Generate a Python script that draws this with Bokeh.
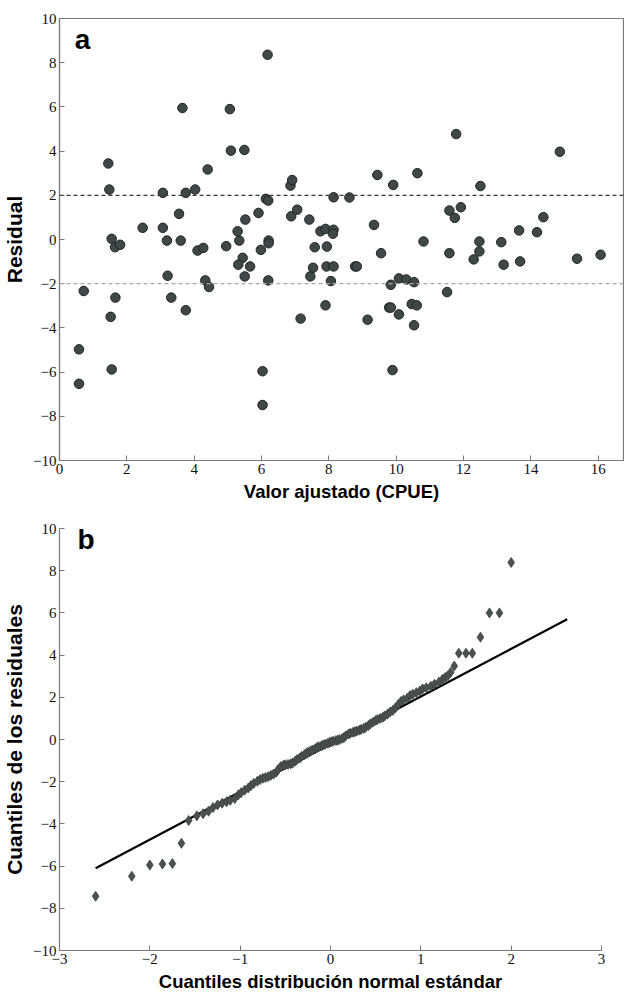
from bokeh.plotting import figure
from bokeh.models import Span, Label, FixedTicker, Range1d
from bokeh.embed import file_html
from bokeh.resources import INLINE

# ---- Panel a: residuals vs fitted values ----
fitted = [0.58, 0.58, 0.72, 1.45, 1.48, 1.55, 1.65, 1.80, 1.66, 1.52, 1.55, 2.47, 3.07, 3.07,
          3.19, 3.21, 3.32, 3.55, 3.60, 3.65, 3.75, 3.75, 4.03, 4.10, 4.27, 4.40, 4.33, 4.44,
          4.95, 5.06, 5.09, 5.49, 5.29, 5.34, 5.44, 5.31, 5.50, 5.52, 5.66, 5.91, 5.98, 6.13,
          6.20, 6.21, 6.21, 6.20, 6.03, 6.03, 6.18, 6.86, 6.91, 6.88, 7.06, 7.16, 7.42, 7.58,
          7.45, 7.53, 7.75, 7.90, 7.94, 7.93, 8.14, 7.90, 8.06, 8.14, 8.14, 8.12, 8.61, 8.78,
          8.83, 9.15, 9.34, 9.44, 9.55, 9.79, 9.84, 9.84, 9.89, 9.91, 10.08, 10.08, 10.30, 10.46,
          10.53, 10.53, 10.61, 10.63, 10.81, 11.51, 11.58, 11.58, 11.74, 11.78, 11.92, 12.30,
          12.47, 12.47, 12.50, 13.12, 13.19, 13.65, 13.68, 14.18, 14.37, 14.86, 15.37, 16.07]
residual = [-4.97, -6.53, -2.33, 3.44, 2.26, 0.03, -0.35, -0.24, -2.63, -3.50, -5.88, 0.53, 2.11, 0.53,
            -0.05, -1.64, -2.63, 1.16, -0.05, 5.95, 2.11, -3.20, 2.26, -0.50, -0.38, 3.17, -1.85, -2.15,
            -0.30, 5.90, 4.02, 4.05, 0.37, -0.05, -0.83, -1.14, -1.67, 0.90, -1.22, 1.20, -0.47, 1.84,
            1.76, -0.05, -0.17, -1.85, -5.96, -7.49, 8.36, 2.44, 2.69, 1.05, 1.35, -3.58, 0.90, -0.35,
            -1.67, -1.28, 0.37, 0.48, -0.32, -1.22, -1.22, -2.98, -1.88, 1.91, 0.44, 0.26, 1.90, -1.22,
            -1.22, -3.63, 0.66, 2.92, -0.62, -3.08, -3.08, -2.05, -5.91, 2.47, -1.76, -3.39, -1.81, -2.92,
            -1.93, -3.88, -2.98, 3.00, -0.09, -2.38, 1.31, -0.62, 0.98, 4.77, 1.46, -0.90,
            -0.09, -0.54, 2.42, -0.12, -1.14, 0.41, -0.99, 0.33, 1.01, 3.97, -0.87, -0.69]
ref_levels = [2, -2]
ref_colors = ["#3a3a3a", "#a8a8a8"]
a_xticks = [0, 2, 4, 6, 8, 10, 12, 14, 16]
a_yticks = [-10, -8, -6, -4, -2, 0, 2, 4, 6, 8, 10]

# ---- Panel b: normal QQ plot ----
qq_x = [-2.60, -2.20, -2.00, -1.86, -1.75, -1.65, -1.57, -1.48, -1.41, -1.35, -1.30, -1.25, -1.20, -1.15,
        -1.11, -1.06, -1.02, -0.99, -0.95, -0.91, -0.88, -0.85, -0.81, -0.78, -0.75, -0.72, -0.69, -0.66,
        -0.63, -0.60, -0.58, -0.55, -0.52, -0.50, -0.47, -0.44, -0.42, -0.39, -0.37, -0.34, -0.32, -0.29,
        -0.27, -0.25, -0.22, -0.20, -0.17, -0.15, -0.13, -0.10, -0.08, -0.06, -0.03, -0.01,
        0.01, 0.03, 0.06, 0.08, 0.10, 0.13, 0.15, 0.17, 0.20, 0.22, 0.25, 0.27, 0.29, 0.32,
        0.34, 0.37, 0.39, 0.42, 0.44, 0.47, 0.50, 0.52, 0.55, 0.58, 0.60, 0.63, 0.66, 0.69,
        0.72, 0.75, 0.78, 0.81, 0.85, 0.88, 0.91, 0.95, 0.99, 1.02, 1.06, 1.11, 1.15, 1.20,
        1.24, 1.27, 1.30, 1.33, 1.37, 1.42, 1.50, 1.57, 1.66, 1.76, 1.87, 2.00]
qq_y = [-7.43, -6.48, -5.95, -5.90, -5.88, -4.92, -3.84, -3.62, -3.52, -3.40, -3.22, -3.10, -3.02, -2.95,
        -2.88, -2.80, -2.62, -2.52, -2.40, -2.30, -2.18, -2.08, -1.98, -1.90, -1.84, -1.80, -1.76, -1.70,
        -1.64, -1.55, -1.42, -1.28, -1.22, -1.20, -1.18, -1.15, -1.12, -1.02, -0.95, -0.88, -0.80, -0.72,
        -0.66, -0.60, -0.54, -0.50, -0.44, -0.38, -0.34, -0.30, -0.26, -0.22, -0.18, -0.14,
        -0.11, -0.08, -0.05, -0.03, 0.00, 0.05, 0.10, 0.18, 0.26, 0.30, 0.34, 0.37, 0.40, 0.44,
        0.48, 0.53, 0.58, 0.66, 0.74, 0.82, 0.90, 0.95, 1.00, 1.05, 1.12, 1.20, 1.30, 1.38,
        1.50, 1.66, 1.80, 1.88, 1.95, 2.08, 2.14, 2.22, 2.30, 2.40, 2.45, 2.52, 2.62, 2.72,
        2.85, 2.94, 3.02, 3.18, 3.48, 4.09, 4.09, 4.09, 4.85, 6.00, 6.00, 8.39]
fit_x = [-2.60, 2.62]
fit_y = [-6.10, 5.70]
b_xticks = [-3, -2, -1, 0, 1, 2, 3]
b_yticks = [-10, -8, -6, -4, -2, 0, 2, 4, 6, 8, 10]

LABEL_FONT = "Liberation Sans"
TICK_FONT = "Liberation Serif"
AXIS_GREY = "#7a7a7a"


def style_axis(ax, ticks, label, size):
    ax.ticker = FixedTicker(ticks=ticks)
    ax.axis_line_color = AXIS_GREY
    ax.axis_line_width = 1.2
    ax.major_tick_line_color = AXIS_GREY
    ax.major_tick_in = 5
    ax.major_tick_out = 0
    ax.minor_tick_line_color = None
    ax.major_label_text_font = TICK_FONT
    ax.major_label_text_color = "#111111"
    ax.major_label_standoff = 3
    ax.major_label_text_font_size = "15px"
    ax.axis_label = label
    ax.axis_label_text_font = LABEL_FONT
    ax.axis_label_text_font_style = "bold"
    ax.axis_label_text_font_size = size
    ax.axis_label_text_color = "#000000"
    ax.axis_label_standoff = 4


# ---------------- Figure a ----------------
p1 = figure(width=624, height=515, x_range=Range1d(0, 16.75), y_range=Range1d(-10, 10),
            output_backend="svg", toolbar_location=None,
            min_border_left=54, min_border_right=1, min_border_top=18, min_border_bottom=55)
p1.grid.visible = False
p1.outline_line_color = AXIS_GREY
p1.outline_line_width = 1.2
p1.background_fill_color = "white"
p1.border_fill_color = "white"
style_axis(p1.xaxis[0], a_xticks, "Valor ajustado (CPUE)", "18.5px")
style_axis(p1.yaxis[0], a_yticks, "Residual", "21px")

for lvl, col in zip(ref_levels, ref_colors):
    p1.add_layout(Span(location=lvl, dimension="width", line_color=col,
                       line_dash="4 3", line_width=1.3))

p1.scatter(fitted, residual, marker="circle", size=9.5, fill_color="#3f4848",
           line_color="#1f2424", line_width=1)

p1.add_layout(Label(x=0.45, y=8.35, text="a", text_font=LABEL_FONT, text_font_style="bold",
                    text_font_size="28px", text_color="#000000"))

# ---------------- Figure b ----------------
p2 = figure(width=624, height=482, x_range=Range1d(-3, 3), y_range=Range1d(-10, 10),
            output_backend="svg", toolbar_location=None,
            min_border_left=55, min_border_right=23, min_border_top=13, min_border_bottom=47)
p2.grid.visible = False
p2.outline_line_color = None
p2.background_fill_color = "white"
p2.border_fill_color = "white"
style_axis(p2.xaxis[0], b_xticks, "Cuantiles distribución normal estándar", "18.5px")
style_axis(p2.yaxis[0], b_yticks, "Cuantiles de los residuales", "21px")

p2.line(fit_x, fit_y, line_color="#000000", line_width=2.2)
p2.scatter(qq_x, qq_y, marker="diamond", size=10, fill_color="#4a5151",
           line_color="#3a4040", line_width=0.8)

p2.add_layout(Label(x=-2.8, y=8.75, text="b", text_font=LABEL_FONT, text_font_style="bold",
                    text_font_size="28px", text_color="#000000"))

open("out.html", "w").write(file_html([p1, p2], INLINE))
